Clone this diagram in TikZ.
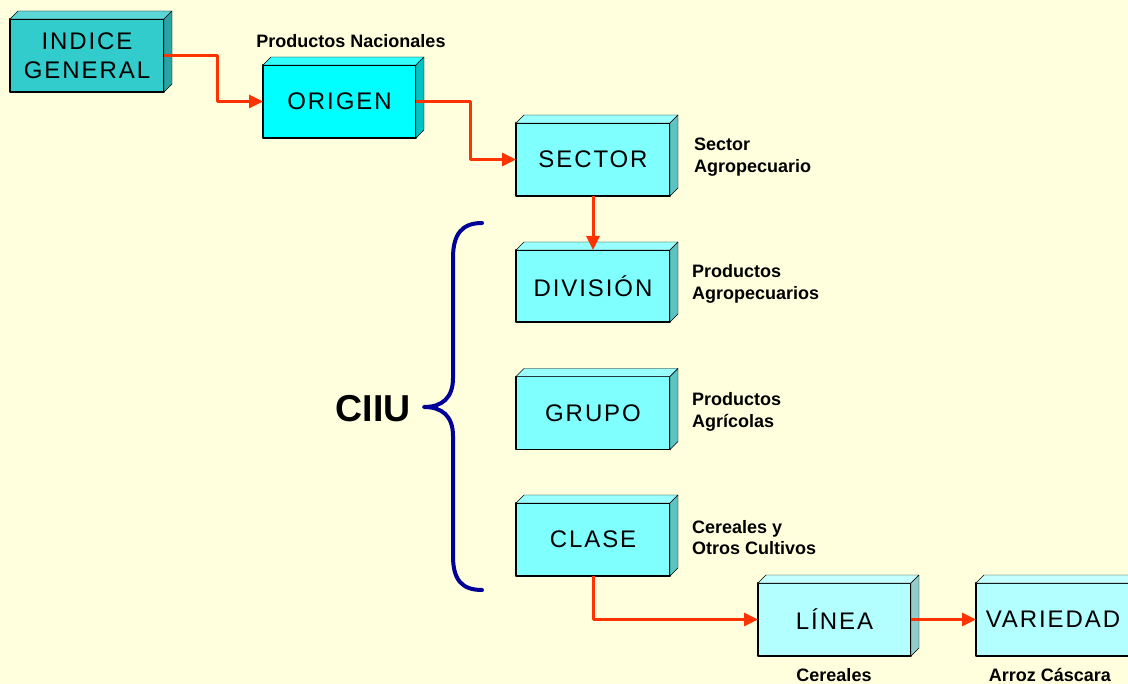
\documentclass[tikz,border=0pt]{standalone}
\usepackage{fontspec}
\setmainfont{Liberation Sans}
\newfontfamily\boxfont[LetterSpace=8]{Liberation Sans}
\usetikzlibrary{calc,arrows.meta}
\definecolor{bg}{HTML}{FFFFDD}
\definecolor{arr}{HTML}{FF3300}
\definecolor{brc}{HTML}{000099}
\definecolor{igF}{HTML}{33CCCC}\definecolor{igT}{HTML}{5CD6D6}\definecolor{igS}{HTML}{29A3A3}
\definecolor{orF}{HTML}{00FFFF}\definecolor{orT}{HTML}{33FFFF}\definecolor{orS}{HTML}{00C2C2}
\definecolor{mdF}{HTML}{80FFFF}\definecolor{mdT}{HTML}{99FFFF}\definecolor{mdS}{HTML}{5CC2C2}
\definecolor{ltF}{HTML}{B3FFFF}\definecolor{ltT}{HTML}{C6FFFF}\definecolor{ltS}{HTML}{94CCCC}
\newcommand\cubefaces[3]{%
  \filldraw[fill=#2] (#1.north west) -- ++(8,-8) -- ($(#1.north east)+(8,-8)$) -- (#1.north east) -- cycle;
  \filldraw[fill=#3] (#1.north east) -- ++(8,-8) -- ($(#1.south east)+(8,-8)$) -- (#1.south east) -- cycle;}
\tikzset{
  cube/.style={draw=black, line width=1.6pt, inner sep=0pt, outer sep=0pt,
    minimum width=154pt, minimum height=73pt, align=center,
    font=\boxfont\fontsize{24}{29}\selectfont},
  lbl/.style={font=\bfseries\fontsize{18}{21.5}\selectfont, inner sep=0pt, align=left, anchor=west},
  clbl/.style={font=\bfseries\fontsize{18}{21.5}\selectfont, inner sep=0pt},
  conn/.style={draw=arr, line width=3pt, -{Triangle[length=14pt,width=13pt]}},
}
\begin{document}
\begin{tikzpicture}[x=1pt,y=-1pt, line join=round]
\useasboundingbox (0,0) rectangle (1128,684);
\fill[bg] (0,0) rectangle (1128,684);
\begin{scope}
\clip (0,0) rectangle (1128,684);
\node[cube, fill=igF] (ig) at (87,55.5) {INDICE\\GENERAL};
\cubefaces{ig}{igT}{igS}
\node[cube, fill=orF, minimum width=153pt] (orig) at (339.5,101.5) {ORIGEN};
\cubefaces{orig}{orT}{orS}
\node[cube, fill=mdF] (sector) at (593,159.5) {SECTOR};
\cubefaces{sector}{mdT}{mdS}
\node[cube, fill=mdF, minimum height=72pt] (div) at (593,286) {DIVISIÓN};
\cubefaces{div}{mdT}{mdS}
\node[cube, fill=mdF] (grupo) at (593,413) {GRUPO};
\cubefaces{grupo}{mdT}{mdS}
\node[cube, fill=mdF] (clase) at (593,539.5) {CLASE};
\cubefaces{clase}{mdT}{mdS}
\node[cube, fill=ltF, minimum width=153pt] (linea) at (834.5,619.5) {LÍNEA};
\cubefaces{linea}{ltT}{ltS}
\node[cube, fill=ltF] (var) at (1053,619.5) {VARIEDAD};
\cubefaces{var}{ltT}{ltS}
\end{scope}

\draw[conn] (ig.east) -- ++(53,0) |- (orig.west);
\draw[conn] (orig.east) -- ++(54,0) |- (sector.west);
\draw[conn] (sector.south) -- (div.north);
\draw[conn] (clase.south) |- (linea.west);
\draw[conn] (linea.east) -- (var.west);

\node[clbl] (pn) at (351,41) {Productos Nacionales};
\node[lbl] (l1) at (694,157) {Sector\\Agropecuario};
\node[lbl] (l2) at (692,284) {Productos\\Agropecuarios};
\node[lbl] (l3) at (692,412) {Productos\\Agrícolas};
\node[lbl] (l4) at (692,537.5) {Cereales y\\Otros Cultivos};
\node[clbl] (l5) at (834,675) {Cereales};
\node[clbl] (l6) at (1050,675) {Arroz Cáscara};

\node[font=\bfseries\fontsize{37.5}{40}\selectfont, inner sep=0pt] (ciiu) at (373,409) {CIIU};
\draw[brc, line width=4pt, line cap=round]
  (482,223) .. controls (462,223) and (453,234) .. (453,258) -- (453,378)
  .. controls (453,398) and (442,407) .. (424,407)
  .. controls (442,407) and (453,416) .. (453,436) -- (453,556)
  .. controls (453,580) and (462,590) .. (482,590);
\end{tikzpicture}
\end{document}
